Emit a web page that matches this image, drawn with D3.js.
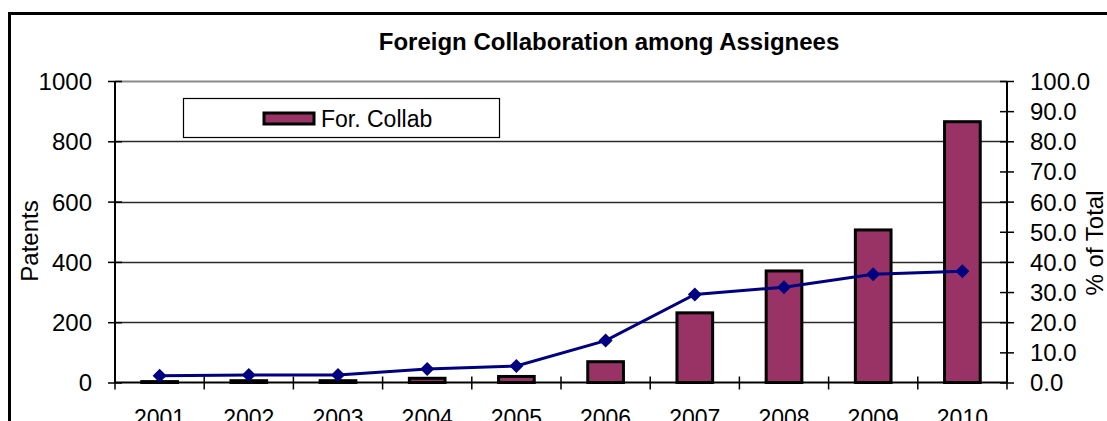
<!DOCTYPE html>
<html>
<head>
<meta charset="utf-8">
<script src="https://cdn.jsdelivr.net/npm/d3@7"></script>
<style>
  html, body { margin: 0; padding: 0; background: #fff; }
  svg { display: block; }
  text { font-family: "Liberation Sans", Arial, sans-serif; }
</style>
</head>
<body>
<svg id="chart" width="1107" height="421"></svg>
<script>
const years = ["2001","2002","2003","2004","2005","2006","2007","2008","2009","2010"];
const patents = [3, 6, 6, 14, 20, 69, 231, 370, 506, 865];
const pctOfTotal = [2.2, 2.5, 2.5, 4.5, 5.5, 13.9, 29.2, 31.6, 35.9, 36.9];
const leftTicks = [0, 200, 400, 600, 800, 1000];
const rightTicks = [0, 10, 20, 30, 40, 50, 60, 70, 80, 90, 100];
const title = "Foreign Collaboration among Assignees";
const seriesName = "For. Collab";
const leftTitle = "Patents";
const rightTitle = "% of Total";

const svg = d3.select("#chart");
const L = 115, R = 1007, T = 81, B = 382.5;

// outer frame
svg.append("rect").attr("x", 9.5).attr("y", 13.5).attr("width", 1107).attr("height", 430)
  .attr("fill", "#fff").attr("stroke", "#000").attr("stroke-width", 3);

const x = d3.scaleBand().domain(years).range([L, R]).paddingInner(0.6).paddingOuter(0.3);
const step = x.step();
const y = d3.scaleLinear().domain([0, 1000]).range([B, T]);
const y2 = d3.scaleLinear().domain([0, 100]).range([B, T]);

// gridlines
svg.append("g").selectAll("line").data(leftTicks.filter(d => d > 0)).join("line")
  .attr("x1", L).attr("x2", R)
  .attr("y1", d => Math.round(y(d)) + 0.5).attr("y2", d => Math.round(y(d)) + 0.5)
  .attr("stroke", d => d === 1000 ? "#8a8a8a" : "#2a2a2a").attr("stroke-width", d => d === 1000 ? 2 : 1.3);

// bars
svg.append("g").selectAll("rect").data(years).join("rect")
  .attr("x", d => x(d))
  .attr("y", (d, i) => y(patents[i]))
  .attr("width", x.bandwidth())
  .attr("height", (d, i) => B - y(patents[i]))
  .attr("fill", "#993366").attr("stroke", "#000").attr("stroke-width", 3);

// left axis
const leftAxis = d3.axisLeft(y).tickValues(leftTicks).tickSize(7).tickFormat(d3.format("d"));
const gl = svg.append("g").attr("transform", `translate(${L},0)`).call(leftAxis);
gl.select(".domain").attr("stroke", "#000").attr("stroke-width", 2).attr("d", `M0,${B}V${T}`);
gl.selectAll(".tick line").attr("x1", -7).attr("x2", 7).attr("stroke", "#000").attr("stroke-width", 1.5);
gl.selectAll(".tick text").attr("x", -23).attr("dy", "0.35em")
  .attr("font-size", 24).attr("fill", "#000");

// right axis
const rightAxis = d3.axisRight(y2).tickValues(rightTicks).tickSize(7).tickFormat(d3.format(".1f"));
const gr = svg.append("g").attr("transform", `translate(${R},0)`).call(rightAxis);
gr.select(".domain").attr("stroke", "#000").attr("stroke-width", 2).attr("d", `M0,${B}V${T}`);
gr.selectAll(".tick line").attr("x1", -7).attr("x2", 7).attr("stroke", "#000").attr("stroke-width", 1.5);
gr.selectAll(".tick text").attr("x", 23).attr("dy", "0.35em")
  .attr("font-size", 24).attr("fill", "#000");

// bottom axis
const gb = svg.append("g").attr("transform", `translate(0,${B})`);
gb.append("line").attr("x1", L).attr("x2", R).attr("y1", 0).attr("y2", 0)
  .attr("stroke", "#000").attr("stroke-width", 2);
gb.selectAll("line.tk").data(d3.range(years.length + 1)).join("line").attr("class", "tk")
  .attr("x1", i => L + i * step).attr("x2", i => L + i * step)
  .attr("y1", -6).attr("y2", 7).attr("stroke", "#000").attr("stroke-width", 1.5);
gb.selectAll("text").data(years).join("text")
  .attr("x", d => x(d) + x.bandwidth() / 2).attr("y", 43.5)
  .attr("text-anchor", "middle").attr("font-size", 23).attr("fill", "#000").text(d => d);

// line series
const pts = years.map((d, i) => [x(d) + x.bandwidth() / 2, y2(pctOfTotal[i])]);
svg.append("path").attr("d", d3.line()(pts))
  .attr("fill", "none").attr("stroke", "#000080").attr("stroke-width", 3);
svg.append("g").selectAll("path").data(pts).join("path")
  .attr("transform", d => `translate(${d[0]},${d[1]})`)
  .attr("d", "M0,-7L7,0L0,7L-7,0Z").attr("fill", "#000080");

// title
svg.append("text").attr("x", 609).attr("y", 50).attr("text-anchor", "middle")
  .attr("font-size", 24).attr("font-weight", "bold").attr("fill", "#000").text(title);

// axis titles
svg.append("text").attr("transform", `translate(38,241) rotate(-90)`).attr("text-anchor", "middle")
  .attr("font-size", 24).attr("fill", "#000").text(leftTitle);
svg.append("text").attr("transform", `translate(1103,243) rotate(-90)`).attr("text-anchor", "middle")
  .attr("font-size", 24).attr("fill", "#000").text(rightTitle);

// legend
const lg = svg.append("g");
lg.append("rect").attr("x", 183.5).attr("y", 98.5).attr("width", 316).attr("height", 39)
  .attr("fill", "#fff").attr("stroke", "#000").attr("stroke-width", 1.2);
lg.append("rect").attr("x", 264).attr("y", 113).attr("width", 50).attr("height", 11)
  .attr("fill", "#993366").attr("stroke", "#000").attr("stroke-width", 3);
lg.append("text").attr("x", 321).attr("y", 127).attr("font-size", 23).attr("fill", "#000").text(seriesName);
</script>
</body>
</html>
